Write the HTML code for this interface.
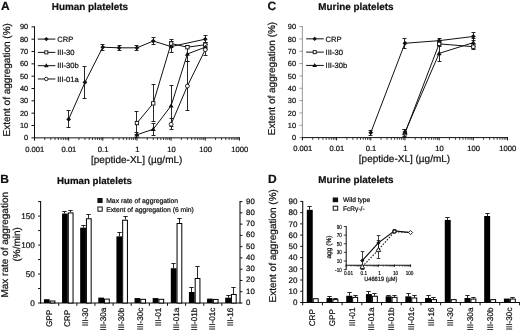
<!DOCTYPE html>
<html lang="en"><head><meta charset="utf-8"><title>Figure</title>
<style>html,body{margin:0;padding:0;background:#fff}body{width:520px;height:330px;overflow:hidden}svg{display:block;will-change:transform;filter:grayscale(1)}text{text-rendering:geometricPrecision;stroke:#111;stroke-width:0.22px}</style>
</head><body>
<svg width="520" height="330" viewBox="0 0 520 330" font-family='"Liberation Sans", Arial, sans-serif'>
<rect width="520" height="330" fill="#fff"/>
<text x="0.90" y="9.90" font-size="12" text-anchor="start" font-weight="bold" fill="#111" >A</text>
<text x="51.80" y="9.90" font-size="9.9" text-anchor="start" font-weight="bold" fill="#111" >Human platelets</text>
<text x="10.40" y="136.50" font-size="10" text-anchor="start" transform="rotate(-90 10.40 136.50)" fill="#111" >Extent of aggregation (%)</text>
<text x="136.70" y="162.50" font-size="10" text-anchor="middle" fill="#111" >[peptide-XL] (µg/mL)</text>
<line x1="34.50" y1="26.35" x2="34.50" y2="138.35" stroke="#111" stroke-width="1" />
<line x1="31.50" y1="137.85" x2="34.50" y2="137.85" stroke="#111" stroke-width="1" />
<text x="28.20" y="140.45" font-size="7.4" text-anchor="end" fill="#111" >0</text>
<line x1="31.50" y1="125.52" x2="34.50" y2="125.52" stroke="#111" stroke-width="1" />
<text x="28.20" y="128.12" font-size="7.4" text-anchor="end" fill="#111" >10</text>
<line x1="31.50" y1="113.18" x2="34.50" y2="113.18" stroke="#111" stroke-width="1" />
<text x="28.20" y="115.78" font-size="7.4" text-anchor="end" fill="#111" >20</text>
<line x1="31.50" y1="100.85" x2="34.50" y2="100.85" stroke="#111" stroke-width="1" />
<text x="28.20" y="103.45" font-size="7.4" text-anchor="end" fill="#111" >30</text>
<line x1="31.50" y1="88.52" x2="34.50" y2="88.52" stroke="#111" stroke-width="1" />
<text x="28.20" y="91.12" font-size="7.4" text-anchor="end" fill="#111" >40</text>
<line x1="31.50" y1="76.18" x2="34.50" y2="76.18" stroke="#111" stroke-width="1" />
<text x="28.20" y="78.78" font-size="7.4" text-anchor="end" fill="#111" >50</text>
<line x1="31.50" y1="63.85" x2="34.50" y2="63.85" stroke="#111" stroke-width="1" />
<text x="28.20" y="66.45" font-size="7.4" text-anchor="end" fill="#111" >60</text>
<line x1="31.50" y1="51.52" x2="34.50" y2="51.52" stroke="#111" stroke-width="1" />
<text x="28.20" y="54.12" font-size="7.4" text-anchor="end" fill="#111" >70</text>
<line x1="31.50" y1="39.18" x2="34.50" y2="39.18" stroke="#111" stroke-width="1" />
<text x="28.20" y="41.78" font-size="7.4" text-anchor="end" fill="#111" >80</text>
<line x1="31.50" y1="26.85" x2="34.50" y2="26.85" stroke="#111" stroke-width="1" />
<text x="28.20" y="29.45" font-size="7.4" text-anchor="end" fill="#111" >90</text>
<line x1="34.00" y1="137.85" x2="239.90" y2="137.85" stroke="#111" stroke-width="1.0" />
<line x1="34.50" y1="137.35" x2="34.50" y2="140.65" stroke="#111" stroke-width="1" />
<text x="34.80" y="151.80" font-size="7.6" text-anchor="middle" fill="#111" >0.001</text>
<line x1="44.78" y1="137.85" x2="44.78" y2="140.05" stroke="#111" stroke-width="0.8" />
<line x1="50.79" y1="137.85" x2="50.79" y2="140.05" stroke="#111" stroke-width="0.8" />
<line x1="55.06" y1="137.85" x2="55.06" y2="140.05" stroke="#111" stroke-width="0.8" />
<line x1="58.37" y1="137.85" x2="58.37" y2="140.05" stroke="#111" stroke-width="0.8" />
<line x1="61.07" y1="137.85" x2="61.07" y2="140.05" stroke="#111" stroke-width="0.8" />
<line x1="63.36" y1="137.85" x2="63.36" y2="140.05" stroke="#111" stroke-width="0.8" />
<line x1="65.34" y1="137.85" x2="65.34" y2="140.05" stroke="#111" stroke-width="0.8" />
<line x1="67.09" y1="137.85" x2="67.09" y2="140.05" stroke="#111" stroke-width="0.8" />
<line x1="68.65" y1="137.35" x2="68.65" y2="140.65" stroke="#111" stroke-width="1" />
<text x="68.95" y="151.80" font-size="7.6" text-anchor="middle" fill="#111" >0.01</text>
<line x1="78.93" y1="137.85" x2="78.93" y2="140.05" stroke="#111" stroke-width="0.8" />
<line x1="84.94" y1="137.85" x2="84.94" y2="140.05" stroke="#111" stroke-width="0.8" />
<line x1="89.21" y1="137.85" x2="89.21" y2="140.05" stroke="#111" stroke-width="0.8" />
<line x1="92.52" y1="137.85" x2="92.52" y2="140.05" stroke="#111" stroke-width="0.8" />
<line x1="95.22" y1="137.85" x2="95.22" y2="140.05" stroke="#111" stroke-width="0.8" />
<line x1="97.51" y1="137.85" x2="97.51" y2="140.05" stroke="#111" stroke-width="0.8" />
<line x1="99.49" y1="137.85" x2="99.49" y2="140.05" stroke="#111" stroke-width="0.8" />
<line x1="101.24" y1="137.85" x2="101.24" y2="140.05" stroke="#111" stroke-width="0.8" />
<line x1="102.80" y1="137.35" x2="102.80" y2="140.65" stroke="#111" stroke-width="1" />
<text x="103.10" y="151.80" font-size="7.6" text-anchor="middle" fill="#111" >0.1</text>
<line x1="113.08" y1="137.85" x2="113.08" y2="140.05" stroke="#111" stroke-width="0.8" />
<line x1="119.09" y1="137.85" x2="119.09" y2="140.05" stroke="#111" stroke-width="0.8" />
<line x1="123.36" y1="137.85" x2="123.36" y2="140.05" stroke="#111" stroke-width="0.8" />
<line x1="126.67" y1="137.85" x2="126.67" y2="140.05" stroke="#111" stroke-width="0.8" />
<line x1="129.37" y1="137.85" x2="129.37" y2="140.05" stroke="#111" stroke-width="0.8" />
<line x1="131.66" y1="137.85" x2="131.66" y2="140.05" stroke="#111" stroke-width="0.8" />
<line x1="133.64" y1="137.85" x2="133.64" y2="140.05" stroke="#111" stroke-width="0.8" />
<line x1="135.39" y1="137.85" x2="135.39" y2="140.05" stroke="#111" stroke-width="0.8" />
<line x1="136.95" y1="137.35" x2="136.95" y2="140.65" stroke="#111" stroke-width="1" />
<text x="137.25" y="151.80" font-size="7.6" text-anchor="middle" fill="#111" >1</text>
<line x1="147.23" y1="137.85" x2="147.23" y2="140.05" stroke="#111" stroke-width="0.8" />
<line x1="153.24" y1="137.85" x2="153.24" y2="140.05" stroke="#111" stroke-width="0.8" />
<line x1="157.51" y1="137.85" x2="157.51" y2="140.05" stroke="#111" stroke-width="0.8" />
<line x1="160.82" y1="137.85" x2="160.82" y2="140.05" stroke="#111" stroke-width="0.8" />
<line x1="163.52" y1="137.85" x2="163.52" y2="140.05" stroke="#111" stroke-width="0.8" />
<line x1="165.81" y1="137.85" x2="165.81" y2="140.05" stroke="#111" stroke-width="0.8" />
<line x1="167.79" y1="137.85" x2="167.79" y2="140.05" stroke="#111" stroke-width="0.8" />
<line x1="169.54" y1="137.85" x2="169.54" y2="140.05" stroke="#111" stroke-width="0.8" />
<line x1="171.10" y1="137.35" x2="171.10" y2="140.65" stroke="#111" stroke-width="1" />
<text x="171.40" y="151.80" font-size="7.6" text-anchor="middle" fill="#111" >10</text>
<line x1="181.38" y1="137.85" x2="181.38" y2="140.05" stroke="#111" stroke-width="0.8" />
<line x1="187.39" y1="137.85" x2="187.39" y2="140.05" stroke="#111" stroke-width="0.8" />
<line x1="191.66" y1="137.85" x2="191.66" y2="140.05" stroke="#111" stroke-width="0.8" />
<line x1="194.97" y1="137.85" x2="194.97" y2="140.05" stroke="#111" stroke-width="0.8" />
<line x1="197.67" y1="137.85" x2="197.67" y2="140.05" stroke="#111" stroke-width="0.8" />
<line x1="199.96" y1="137.85" x2="199.96" y2="140.05" stroke="#111" stroke-width="0.8" />
<line x1="201.94" y1="137.85" x2="201.94" y2="140.05" stroke="#111" stroke-width="0.8" />
<line x1="203.69" y1="137.85" x2="203.69" y2="140.05" stroke="#111" stroke-width="0.8" />
<line x1="205.25" y1="137.35" x2="205.25" y2="140.65" stroke="#111" stroke-width="1" />
<text x="205.55" y="151.80" font-size="7.6" text-anchor="middle" fill="#111" >100</text>
<line x1="215.53" y1="137.85" x2="215.53" y2="140.05" stroke="#111" stroke-width="0.8" />
<line x1="221.54" y1="137.85" x2="221.54" y2="140.05" stroke="#111" stroke-width="0.8" />
<line x1="225.81" y1="137.85" x2="225.81" y2="140.05" stroke="#111" stroke-width="0.8" />
<line x1="229.12" y1="137.85" x2="229.12" y2="140.05" stroke="#111" stroke-width="0.8" />
<line x1="231.82" y1="137.85" x2="231.82" y2="140.05" stroke="#111" stroke-width="0.8" />
<line x1="234.11" y1="137.85" x2="234.11" y2="140.05" stroke="#111" stroke-width="0.8" />
<line x1="236.09" y1="137.85" x2="236.09" y2="140.05" stroke="#111" stroke-width="0.8" />
<line x1="237.84" y1="137.85" x2="237.84" y2="140.05" stroke="#111" stroke-width="0.8" />
<line x1="239.40" y1="137.35" x2="239.40" y2="140.65" stroke="#111" stroke-width="1" />
<text x="239.70" y="151.80" font-size="7.6" text-anchor="middle" fill="#111" >1000</text>
<polyline points="68.65,119.35 84.94,82.35 102.80,47.20 119.09,47.82 136.95,47.82 153.24,41.03 171.10,46.58 205.25,39.18" fill="none" stroke="#111" stroke-width="1.0" />
<polyline points="136.95,123.05 153.24,103.32 171.10,43.50 187.39,47.20 205.25,44.73" fill="none" stroke="#111" stroke-width="1.0" />
<polyline points="136.95,134.77 153.24,129.22 171.10,105.78 187.39,53.98 205.25,47.20" fill="none" stroke="#111" stroke-width="1.0" />
<polyline points="171.10,124.28 187.39,86.05 205.25,49.67" fill="none" stroke="#111" stroke-width="1.0" />
<line x1="68.50" y1="110.50" x2="68.50" y2="127.50" stroke="#111" stroke-width="0.9" />
<line x1="66.50" y1="110.50" x2="70.50" y2="110.50" stroke="#111" stroke-width="0.9" />
<line x1="66.50" y1="127.50" x2="70.50" y2="127.50" stroke="#111" stroke-width="0.9" />
<line x1="84.50" y1="66.50" x2="84.50" y2="98.50" stroke="#111" stroke-width="0.9" />
<line x1="82.50" y1="66.50" x2="86.50" y2="66.50" stroke="#111" stroke-width="0.9" />
<line x1="82.50" y1="98.50" x2="86.50" y2="98.50" stroke="#111" stroke-width="0.9" />
<line x1="102.50" y1="44.50" x2="102.50" y2="50.50" stroke="#111" stroke-width="0.9" />
<line x1="100.50" y1="44.50" x2="104.50" y2="44.50" stroke="#111" stroke-width="0.9" />
<line x1="100.50" y1="50.50" x2="104.50" y2="50.50" stroke="#111" stroke-width="0.9" />
<line x1="119.50" y1="45.50" x2="119.50" y2="50.50" stroke="#111" stroke-width="0.9" />
<line x1="117.50" y1="45.50" x2="121.50" y2="45.50" stroke="#111" stroke-width="0.9" />
<line x1="117.50" y1="50.50" x2="121.50" y2="50.50" stroke="#111" stroke-width="0.9" />
<line x1="136.50" y1="45.50" x2="136.50" y2="50.50" stroke="#111" stroke-width="0.9" />
<line x1="134.50" y1="45.50" x2="138.50" y2="45.50" stroke="#111" stroke-width="0.9" />
<line x1="134.50" y1="50.50" x2="138.50" y2="50.50" stroke="#111" stroke-width="0.9" />
<line x1="153.50" y1="37.50" x2="153.50" y2="44.50" stroke="#111" stroke-width="0.9" />
<line x1="151.50" y1="37.50" x2="155.50" y2="37.50" stroke="#111" stroke-width="0.9" />
<line x1="151.50" y1="44.50" x2="155.50" y2="44.50" stroke="#111" stroke-width="0.9" />
<line x1="171.50" y1="41.50" x2="171.50" y2="52.50" stroke="#111" stroke-width="0.9" />
<line x1="169.50" y1="41.50" x2="173.50" y2="41.50" stroke="#111" stroke-width="0.9" />
<line x1="169.50" y1="52.50" x2="173.50" y2="52.50" stroke="#111" stroke-width="0.9" />
<line x1="205.50" y1="35.50" x2="205.50" y2="42.50" stroke="#111" stroke-width="0.9" />
<line x1="203.50" y1="35.50" x2="207.50" y2="35.50" stroke="#111" stroke-width="0.9" />
<line x1="203.50" y1="42.50" x2="207.50" y2="42.50" stroke="#111" stroke-width="0.9" />
<line x1="136.50" y1="111.50" x2="136.50" y2="134.50" stroke="#111" stroke-width="0.9" />
<line x1="134.50" y1="111.50" x2="138.50" y2="111.50" stroke="#111" stroke-width="0.9" />
<line x1="134.50" y1="134.50" x2="138.50" y2="134.50" stroke="#111" stroke-width="0.9" />
<line x1="153.50" y1="84.50" x2="153.50" y2="121.50" stroke="#111" stroke-width="0.9" />
<line x1="151.50" y1="84.50" x2="155.50" y2="84.50" stroke="#111" stroke-width="0.9" />
<line x1="151.50" y1="121.50" x2="155.50" y2="121.50" stroke="#111" stroke-width="0.9" />
<line x1="171.50" y1="39.50" x2="171.50" y2="47.50" stroke="#111" stroke-width="0.9" />
<line x1="169.50" y1="39.50" x2="173.50" y2="39.50" stroke="#111" stroke-width="0.9" />
<line x1="169.50" y1="47.50" x2="173.50" y2="47.50" stroke="#111" stroke-width="0.9" />
<line x1="205.50" y1="42.50" x2="205.50" y2="47.50" stroke="#111" stroke-width="0.9" />
<line x1="203.50" y1="42.50" x2="207.50" y2="42.50" stroke="#111" stroke-width="0.9" />
<line x1="203.50" y1="47.50" x2="207.50" y2="47.50" stroke="#111" stroke-width="0.9" />
<line x1="136.50" y1="132.50" x2="136.50" y2="137.50" stroke="#111" stroke-width="0.9" />
<line x1="134.50" y1="132.50" x2="138.50" y2="132.50" stroke="#111" stroke-width="0.9" />
<line x1="134.50" y1="137.50" x2="138.50" y2="137.50" stroke="#111" stroke-width="0.9" />
<line x1="153.50" y1="123.50" x2="153.50" y2="135.50" stroke="#111" stroke-width="0.9" />
<line x1="151.50" y1="123.50" x2="155.50" y2="123.50" stroke="#111" stroke-width="0.9" />
<line x1="151.50" y1="135.50" x2="155.50" y2="135.50" stroke="#111" stroke-width="0.9" />
<line x1="171.50" y1="85.50" x2="171.50" y2="126.50" stroke="#111" stroke-width="0.9" />
<line x1="169.50" y1="85.50" x2="173.50" y2="85.50" stroke="#111" stroke-width="0.9" />
<line x1="169.50" y1="126.50" x2="173.50" y2="126.50" stroke="#111" stroke-width="0.9" />
<line x1="187.50" y1="45.50" x2="187.50" y2="61.50" stroke="#111" stroke-width="0.9" />
<line x1="185.50" y1="45.50" x2="189.50" y2="45.50" stroke="#111" stroke-width="0.9" />
<line x1="185.50" y1="61.50" x2="189.50" y2="61.50" stroke="#111" stroke-width="0.9" />
<line x1="205.50" y1="44.50" x2="205.50" y2="49.50" stroke="#111" stroke-width="0.9" />
<line x1="203.50" y1="44.50" x2="207.50" y2="44.50" stroke="#111" stroke-width="0.9" />
<line x1="203.50" y1="49.50" x2="207.50" y2="49.50" stroke="#111" stroke-width="0.9" />
<line x1="171.50" y1="118.50" x2="171.50" y2="129.50" stroke="#111" stroke-width="0.9" />
<line x1="169.50" y1="118.50" x2="173.50" y2="118.50" stroke="#111" stroke-width="0.9" />
<line x1="169.50" y1="129.50" x2="173.50" y2="129.50" stroke="#111" stroke-width="0.9" />
<line x1="187.50" y1="61.50" x2="187.50" y2="110.50" stroke="#111" stroke-width="0.9" />
<line x1="185.50" y1="61.50" x2="189.50" y2="61.50" stroke="#111" stroke-width="0.9" />
<line x1="185.50" y1="110.50" x2="189.50" y2="110.50" stroke="#111" stroke-width="0.9" />
<line x1="205.50" y1="44.50" x2="205.50" y2="55.50" stroke="#111" stroke-width="0.9" />
<line x1="203.50" y1="44.50" x2="207.50" y2="44.50" stroke="#111" stroke-width="0.9" />
<line x1="203.50" y1="55.50" x2="207.50" y2="55.50" stroke="#111" stroke-width="0.9" />
<polygon points="68.65,116.95 71.05,119.35 68.65,121.75 66.25,119.35" fill="#111"/>
<polygon points="84.94,79.95 87.34,82.35 84.94,84.75 82.54,82.35" fill="#111"/>
<polygon points="102.80,44.80 105.20,47.20 102.80,49.60 100.40,47.20" fill="#111"/>
<polygon points="119.09,45.42 121.49,47.82 119.09,50.22 116.69,47.82" fill="#111"/>
<polygon points="136.95,45.42 139.35,47.82 136.95,50.22 134.55,47.82" fill="#111"/>
<polygon points="153.24,38.63 155.64,41.03 153.24,43.43 150.84,41.03" fill="#111"/>
<polygon points="171.10,44.18 173.50,46.58 171.10,48.98 168.70,46.58" fill="#111"/>
<polygon points="205.25,36.78 207.65,39.18 205.25,41.58 202.85,39.18" fill="#111"/>
<rect x="135.27" y="121.37" width="3.36" height="3.36" fill="#fff" stroke="#111" stroke-width="0.9"/>
<rect x="151.56" y="101.64" width="3.36" height="3.36" fill="#fff" stroke="#111" stroke-width="0.9"/>
<rect x="169.42" y="41.82" width="3.36" height="3.36" fill="#fff" stroke="#111" stroke-width="0.9"/>
<rect x="185.71" y="45.52" width="3.36" height="3.36" fill="#fff" stroke="#111" stroke-width="0.9"/>
<rect x="203.57" y="43.05" width="3.36" height="3.36" fill="#fff" stroke="#111" stroke-width="0.9"/>
<polygon points="136.95,132.25 139.47,136.57 134.43,136.57" fill="#111"/>
<polygon points="153.24,126.70 155.76,131.02 150.72,131.02" fill="#111"/>
<polygon points="171.10,103.26 173.62,107.58 168.58,107.58" fill="#111"/>
<polygon points="187.39,51.46 189.91,55.78 184.87,55.78" fill="#111"/>
<polygon points="205.25,44.68 207.77,49.00 202.73,49.00" fill="#111"/>
<circle cx="171.10" cy="124.28" r="1.92" fill="#fff" stroke="#111" stroke-width="0.9"/>
<circle cx="187.39" cy="86.05" r="1.92" fill="#fff" stroke="#111" stroke-width="0.9"/>
<circle cx="205.25" cy="49.67" r="1.92" fill="#fff" stroke="#111" stroke-width="0.9"/>
<line x1="37.80" y1="39.08" x2="55.40" y2="39.08" stroke="#111" stroke-width="1.0" />
<polygon points="46.30,36.88 48.50,39.08 46.30,41.28 44.10,39.08" fill="#111"/>
<text x="57.20" y="41.78" font-size="7.6" text-anchor="start" fill="#111" >CRP</text>
<line x1="37.80" y1="52.38" x2="55.40" y2="52.38" stroke="#111" stroke-width="1.0" />
<rect x="44.76" y="50.84" width="3.08" height="3.08" fill="#fff" stroke="#111" stroke-width="0.9"/>
<text x="57.20" y="55.08" font-size="7.6" text-anchor="start" fill="#111" >III-30</text>
<line x1="37.80" y1="65.68" x2="55.40" y2="65.68" stroke="#111" stroke-width="1.0" />
<polygon points="46.30,63.37 48.61,67.33 43.99,67.33" fill="#111"/>
<text x="57.20" y="68.38" font-size="7.6" text-anchor="start" fill="#111" >III-30b</text>
<line x1="37.80" y1="78.98" x2="55.40" y2="78.98" stroke="#111" stroke-width="1.0" />
<circle cx="46.30" cy="78.98" r="1.76" fill="#fff" stroke="#111" stroke-width="0.9"/>
<text x="57.20" y="81.68" font-size="7.6" text-anchor="start" fill="#111" >III-01a</text>
<text x="267.50" y="9.90" font-size="12" text-anchor="start" font-weight="bold" fill="#111" >C</text>
<text x="318.30" y="9.60" font-size="9.9" text-anchor="start" font-weight="bold" fill="#111" >Murine platelets</text>
<text x="275.20" y="135.20" font-size="10" text-anchor="start" transform="rotate(-90 275.20 135.20)" fill="#111" >Extent of aggregation (%)</text>
<text x="404.50" y="161.70" font-size="10" text-anchor="middle" fill="#111" >[peptide-XL] (µg/mL)</text>
<line x1="302.40" y1="26.10" x2="302.40" y2="138.10" stroke="#999" stroke-width="1" />
<line x1="299.40" y1="137.60" x2="302.40" y2="137.60" stroke="#999" stroke-width="1" />
<text x="296.10" y="140.20" font-size="7.4" text-anchor="end" fill="#111" >0</text>
<line x1="299.40" y1="125.27" x2="302.40" y2="125.27" stroke="#999" stroke-width="1" />
<text x="296.10" y="127.87" font-size="7.4" text-anchor="end" fill="#111" >10</text>
<line x1="299.40" y1="112.93" x2="302.40" y2="112.93" stroke="#999" stroke-width="1" />
<text x="296.10" y="115.53" font-size="7.4" text-anchor="end" fill="#111" >20</text>
<line x1="299.40" y1="100.60" x2="302.40" y2="100.60" stroke="#999" stroke-width="1" />
<text x="296.10" y="103.20" font-size="7.4" text-anchor="end" fill="#111" >30</text>
<line x1="299.40" y1="88.27" x2="302.40" y2="88.27" stroke="#999" stroke-width="1" />
<text x="296.10" y="90.87" font-size="7.4" text-anchor="end" fill="#111" >40</text>
<line x1="299.40" y1="75.93" x2="302.40" y2="75.93" stroke="#999" stroke-width="1" />
<text x="296.10" y="78.53" font-size="7.4" text-anchor="end" fill="#111" >50</text>
<line x1="299.40" y1="63.60" x2="302.40" y2="63.60" stroke="#999" stroke-width="1" />
<text x="296.10" y="66.20" font-size="7.4" text-anchor="end" fill="#111" >60</text>
<line x1="299.40" y1="51.27" x2="302.40" y2="51.27" stroke="#999" stroke-width="1" />
<text x="296.10" y="53.87" font-size="7.4" text-anchor="end" fill="#111" >70</text>
<line x1="299.40" y1="38.93" x2="302.40" y2="38.93" stroke="#999" stroke-width="1" />
<text x="296.10" y="41.53" font-size="7.4" text-anchor="end" fill="#111" >80</text>
<line x1="299.40" y1="26.60" x2="302.40" y2="26.60" stroke="#999" stroke-width="1" />
<text x="296.10" y="29.20" font-size="7.4" text-anchor="end" fill="#111" >90</text>
<line x1="301.90" y1="137.60" x2="508.00" y2="137.60" stroke="#111" stroke-width="1.0" />
<line x1="302.40" y1="137.10" x2="302.40" y2="140.40" stroke="#111" stroke-width="1" />
<text x="302.70" y="151.30" font-size="7.6" text-anchor="middle" fill="#111" >0.001</text>
<line x1="312.69" y1="137.60" x2="312.69" y2="139.80" stroke="#111" stroke-width="0.8" />
<line x1="318.71" y1="137.60" x2="318.71" y2="139.80" stroke="#111" stroke-width="0.8" />
<line x1="322.98" y1="137.60" x2="322.98" y2="139.80" stroke="#111" stroke-width="0.8" />
<line x1="326.29" y1="137.60" x2="326.29" y2="139.80" stroke="#111" stroke-width="0.8" />
<line x1="329.00" y1="137.60" x2="329.00" y2="139.80" stroke="#111" stroke-width="0.8" />
<line x1="331.29" y1="137.60" x2="331.29" y2="139.80" stroke="#111" stroke-width="0.8" />
<line x1="333.27" y1="137.60" x2="333.27" y2="139.80" stroke="#111" stroke-width="0.8" />
<line x1="335.02" y1="137.60" x2="335.02" y2="139.80" stroke="#111" stroke-width="0.8" />
<line x1="336.58" y1="137.10" x2="336.58" y2="140.40" stroke="#111" stroke-width="1" />
<text x="336.88" y="151.30" font-size="7.6" text-anchor="middle" fill="#111" >0.01</text>
<line x1="346.87" y1="137.60" x2="346.87" y2="139.80" stroke="#111" stroke-width="0.8" />
<line x1="352.89" y1="137.60" x2="352.89" y2="139.80" stroke="#111" stroke-width="0.8" />
<line x1="357.16" y1="137.60" x2="357.16" y2="139.80" stroke="#111" stroke-width="0.8" />
<line x1="360.48" y1="137.60" x2="360.48" y2="139.80" stroke="#111" stroke-width="0.8" />
<line x1="363.18" y1="137.60" x2="363.18" y2="139.80" stroke="#111" stroke-width="0.8" />
<line x1="365.47" y1="137.60" x2="365.47" y2="139.80" stroke="#111" stroke-width="0.8" />
<line x1="367.45" y1="137.60" x2="367.45" y2="139.80" stroke="#111" stroke-width="0.8" />
<line x1="369.20" y1="137.60" x2="369.20" y2="139.80" stroke="#111" stroke-width="0.8" />
<line x1="370.77" y1="137.10" x2="370.77" y2="140.40" stroke="#111" stroke-width="1" />
<text x="371.07" y="151.30" font-size="7.6" text-anchor="middle" fill="#111" >0.1</text>
<line x1="381.06" y1="137.60" x2="381.06" y2="139.80" stroke="#111" stroke-width="0.8" />
<line x1="387.08" y1="137.60" x2="387.08" y2="139.80" stroke="#111" stroke-width="0.8" />
<line x1="391.35" y1="137.60" x2="391.35" y2="139.80" stroke="#111" stroke-width="0.8" />
<line x1="394.66" y1="137.60" x2="394.66" y2="139.80" stroke="#111" stroke-width="0.8" />
<line x1="397.37" y1="137.60" x2="397.37" y2="139.80" stroke="#111" stroke-width="0.8" />
<line x1="399.65" y1="137.60" x2="399.65" y2="139.80" stroke="#111" stroke-width="0.8" />
<line x1="401.64" y1="137.60" x2="401.64" y2="139.80" stroke="#111" stroke-width="0.8" />
<line x1="403.39" y1="137.60" x2="403.39" y2="139.80" stroke="#111" stroke-width="0.8" />
<line x1="404.95" y1="137.10" x2="404.95" y2="140.40" stroke="#111" stroke-width="1" />
<text x="405.25" y="151.30" font-size="7.6" text-anchor="middle" fill="#111" >1</text>
<line x1="415.24" y1="137.60" x2="415.24" y2="139.80" stroke="#111" stroke-width="0.8" />
<line x1="421.26" y1="137.60" x2="421.26" y2="139.80" stroke="#111" stroke-width="0.8" />
<line x1="425.53" y1="137.60" x2="425.53" y2="139.80" stroke="#111" stroke-width="0.8" />
<line x1="428.84" y1="137.60" x2="428.84" y2="139.80" stroke="#111" stroke-width="0.8" />
<line x1="431.55" y1="137.60" x2="431.55" y2="139.80" stroke="#111" stroke-width="0.8" />
<line x1="433.84" y1="137.60" x2="433.84" y2="139.80" stroke="#111" stroke-width="0.8" />
<line x1="435.82" y1="137.60" x2="435.82" y2="139.80" stroke="#111" stroke-width="0.8" />
<line x1="437.57" y1="137.60" x2="437.57" y2="139.80" stroke="#111" stroke-width="0.8" />
<line x1="439.13" y1="137.10" x2="439.13" y2="140.40" stroke="#111" stroke-width="1" />
<text x="439.43" y="151.30" font-size="7.6" text-anchor="middle" fill="#111" >10</text>
<line x1="449.42" y1="137.60" x2="449.42" y2="139.80" stroke="#111" stroke-width="0.8" />
<line x1="455.44" y1="137.60" x2="455.44" y2="139.80" stroke="#111" stroke-width="0.8" />
<line x1="459.71" y1="137.60" x2="459.71" y2="139.80" stroke="#111" stroke-width="0.8" />
<line x1="463.03" y1="137.60" x2="463.03" y2="139.80" stroke="#111" stroke-width="0.8" />
<line x1="465.73" y1="137.60" x2="465.73" y2="139.80" stroke="#111" stroke-width="0.8" />
<line x1="468.02" y1="137.60" x2="468.02" y2="139.80" stroke="#111" stroke-width="0.8" />
<line x1="470.00" y1="137.60" x2="470.00" y2="139.80" stroke="#111" stroke-width="0.8" />
<line x1="471.75" y1="137.60" x2="471.75" y2="139.80" stroke="#111" stroke-width="0.8" />
<line x1="473.32" y1="137.10" x2="473.32" y2="140.40" stroke="#111" stroke-width="1" />
<text x="473.62" y="151.30" font-size="7.6" text-anchor="middle" fill="#111" >100</text>
<line x1="483.61" y1="137.60" x2="483.61" y2="139.80" stroke="#111" stroke-width="0.8" />
<line x1="489.63" y1="137.60" x2="489.63" y2="139.80" stroke="#111" stroke-width="0.8" />
<line x1="493.90" y1="137.60" x2="493.90" y2="139.80" stroke="#111" stroke-width="0.8" />
<line x1="497.21" y1="137.60" x2="497.21" y2="139.80" stroke="#111" stroke-width="0.8" />
<line x1="499.92" y1="137.60" x2="499.92" y2="139.80" stroke="#111" stroke-width="0.8" />
<line x1="502.20" y1="137.60" x2="502.20" y2="139.80" stroke="#111" stroke-width="0.8" />
<line x1="504.19" y1="137.60" x2="504.19" y2="139.80" stroke="#111" stroke-width="0.8" />
<line x1="505.94" y1="137.60" x2="505.94" y2="139.80" stroke="#111" stroke-width="0.8" />
<line x1="507.50" y1="137.10" x2="507.50" y2="140.40" stroke="#111" stroke-width="1" />
<text x="507.80" y="151.30" font-size="7.6" text-anchor="middle" fill="#111" >1000</text>
<polyline points="370.77,132.67 404.95,43.25 439.13,40.66 473.32,36.47" fill="none" stroke="#111" stroke-width="1.0" />
<polyline points="404.95,133.28 439.13,43.87 473.32,46.70" fill="none" stroke="#111" stroke-width="1.0" />
<polyline points="404.95,132.42 439.13,53.36 473.32,42.63" fill="none" stroke="#111" stroke-width="1.0" />
<line x1="370.50" y1="130.50" x2="370.50" y2="135.50" stroke="#111" stroke-width="0.9" />
<line x1="368.50" y1="130.50" x2="372.50" y2="130.50" stroke="#111" stroke-width="0.9" />
<line x1="368.50" y1="135.50" x2="372.50" y2="135.50" stroke="#111" stroke-width="0.9" />
<line x1="404.50" y1="38.50" x2="404.50" y2="48.50" stroke="#111" stroke-width="0.9" />
<line x1="402.50" y1="38.50" x2="406.50" y2="38.50" stroke="#111" stroke-width="0.9" />
<line x1="402.50" y1="48.50" x2="406.50" y2="48.50" stroke="#111" stroke-width="0.9" />
<line x1="439.50" y1="38.50" x2="439.50" y2="42.50" stroke="#111" stroke-width="0.9" />
<line x1="437.50" y1="38.50" x2="441.50" y2="38.50" stroke="#111" stroke-width="0.9" />
<line x1="437.50" y1="42.50" x2="441.50" y2="42.50" stroke="#111" stroke-width="0.9" />
<line x1="473.50" y1="32.50" x2="473.50" y2="40.50" stroke="#111" stroke-width="0.9" />
<line x1="471.50" y1="32.50" x2="475.50" y2="32.50" stroke="#111" stroke-width="0.9" />
<line x1="471.50" y1="40.50" x2="475.50" y2="40.50" stroke="#111" stroke-width="0.9" />
<line x1="404.50" y1="129.50" x2="404.50" y2="136.50" stroke="#111" stroke-width="0.9" />
<line x1="402.50" y1="129.50" x2="406.50" y2="129.50" stroke="#111" stroke-width="0.9" />
<line x1="402.50" y1="136.50" x2="406.50" y2="136.50" stroke="#111" stroke-width="0.9" />
<line x1="439.50" y1="41.50" x2="439.50" y2="46.50" stroke="#111" stroke-width="0.9" />
<line x1="437.50" y1="41.50" x2="441.50" y2="41.50" stroke="#111" stroke-width="0.9" />
<line x1="437.50" y1="46.50" x2="441.50" y2="46.50" stroke="#111" stroke-width="0.9" />
<line x1="473.50" y1="43.50" x2="473.50" y2="49.50" stroke="#111" stroke-width="0.9" />
<line x1="471.50" y1="43.50" x2="475.50" y2="43.50" stroke="#111" stroke-width="0.9" />
<line x1="471.50" y1="49.50" x2="475.50" y2="49.50" stroke="#111" stroke-width="0.9" />
<line x1="404.50" y1="129.50" x2="404.50" y2="134.50" stroke="#111" stroke-width="0.9" />
<line x1="402.50" y1="129.50" x2="406.50" y2="129.50" stroke="#111" stroke-width="0.9" />
<line x1="402.50" y1="134.50" x2="406.50" y2="134.50" stroke="#111" stroke-width="0.9" />
<line x1="439.50" y1="44.50" x2="439.50" y2="61.50" stroke="#111" stroke-width="0.9" />
<line x1="437.50" y1="44.50" x2="441.50" y2="44.50" stroke="#111" stroke-width="0.9" />
<line x1="437.50" y1="61.50" x2="441.50" y2="61.50" stroke="#111" stroke-width="0.9" />
<line x1="473.50" y1="38.50" x2="473.50" y2="46.50" stroke="#111" stroke-width="0.9" />
<line x1="471.50" y1="38.50" x2="475.50" y2="38.50" stroke="#111" stroke-width="0.9" />
<line x1="471.50" y1="46.50" x2="475.50" y2="46.50" stroke="#111" stroke-width="0.9" />
<polygon points="370.77,130.27 373.17,132.67 370.77,135.07 368.37,132.67" fill="#111"/>
<polygon points="404.95,40.85 407.35,43.25 404.95,45.65 402.55,43.25" fill="#111"/>
<polygon points="439.13,38.26 441.53,40.66 439.13,43.06 436.73,40.66" fill="#111"/>
<polygon points="473.32,34.07 475.72,36.47 473.32,38.87 470.92,36.47" fill="#111"/>
<rect x="403.27" y="131.60" width="3.36" height="3.36" fill="#fff" stroke="#111" stroke-width="0.9"/>
<rect x="437.45" y="42.19" width="3.36" height="3.36" fill="#fff" stroke="#111" stroke-width="0.9"/>
<rect x="471.64" y="45.02" width="3.36" height="3.36" fill="#fff" stroke="#111" stroke-width="0.9"/>
<polygon points="404.95,129.90 407.47,134.22 402.43,134.22" fill="#111"/>
<polygon points="439.13,50.84 441.65,55.16 436.61,55.16" fill="#111"/>
<polygon points="473.32,40.11 475.84,44.43 470.80,44.43" fill="#111"/>
<line x1="306.20" y1="38.83" x2="323.80" y2="38.83" stroke="#111" stroke-width="1.0" />
<polygon points="314.70,36.63 316.90,38.83 314.70,41.03 312.50,38.83" fill="#111"/>
<text x="325.60" y="41.53" font-size="7.6" text-anchor="start" fill="#111" >CRP</text>
<line x1="306.20" y1="52.13" x2="323.80" y2="52.13" stroke="#111" stroke-width="1.0" />
<rect x="313.16" y="50.59" width="3.08" height="3.08" fill="#fff" stroke="#111" stroke-width="0.9"/>
<text x="325.60" y="54.83" font-size="7.6" text-anchor="start" fill="#111" >III-30</text>
<line x1="306.20" y1="65.43" x2="323.80" y2="65.43" stroke="#111" stroke-width="1.0" />
<polygon points="314.70,63.12 317.01,67.08 312.39,67.08" fill="#111"/>
<text x="325.60" y="68.13" font-size="7.6" text-anchor="start" fill="#111" >III-30b</text>
<text x="0.30" y="182.50" font-size="12" text-anchor="start" font-weight="bold" fill="#111" >B</text>
<text x="57.10" y="183.60" font-size="9.7" text-anchor="start" font-weight="bold" fill="#111" >Human platelets</text>
<text x="8.30" y="297.60" font-size="10" text-anchor="start" transform="rotate(-90 8.30 297.60)" fill="#111" >Max rate of aggregation</text>
<text x="20.00" y="244.30" font-size="10" text-anchor="middle" transform="rotate(-90 20.00 244.30)" fill="#111" >(%/min)</text>
<line x1="40.60" y1="201.10" x2="40.60" y2="303.50" stroke="#111" stroke-width="1.1" />
<line x1="240.00" y1="201.10" x2="240.00" y2="303.50" stroke="#111" stroke-width="1.1" />
<line x1="38.10" y1="303.00" x2="40.60" y2="303.00" stroke="#111" stroke-width="1" />
<text x="34.80" y="305.70" font-size="8.2" text-anchor="end" fill="#111" >0</text>
<line x1="38.10" y1="288.51" x2="40.60" y2="288.51" stroke="#111" stroke-width="1" />
<line x1="38.10" y1="274.03" x2="40.60" y2="274.03" stroke="#111" stroke-width="1" />
<text x="34.80" y="276.73" font-size="8.2" text-anchor="end" fill="#111" >50</text>
<line x1="38.10" y1="259.54" x2="40.60" y2="259.54" stroke="#111" stroke-width="1" />
<line x1="38.10" y1="245.06" x2="40.60" y2="245.06" stroke="#111" stroke-width="1" />
<text x="34.80" y="247.76" font-size="8.2" text-anchor="end" fill="#111" >100</text>
<line x1="38.10" y1="230.57" x2="40.60" y2="230.57" stroke="#111" stroke-width="1" />
<line x1="38.10" y1="216.09" x2="40.60" y2="216.09" stroke="#111" stroke-width="1" />
<text x="34.80" y="218.79" font-size="8.2" text-anchor="end" fill="#111" >150</text>
<line x1="38.10" y1="201.60" x2="40.60" y2="201.60" stroke="#111" stroke-width="1" />
<line x1="240.00" y1="303.00" x2="242.50" y2="303.00" stroke="#111" stroke-width="1" />
<text x="246.10" y="305.00" font-size="7.8" text-anchor="start" fill="#111" >0</text>
<line x1="240.00" y1="291.73" x2="242.50" y2="291.73" stroke="#111" stroke-width="1" />
<text x="246.10" y="293.73" font-size="7.8" text-anchor="start" fill="#111" >10</text>
<line x1="240.00" y1="280.47" x2="242.50" y2="280.47" stroke="#111" stroke-width="1" />
<text x="246.10" y="282.47" font-size="7.8" text-anchor="start" fill="#111" >20</text>
<line x1="240.00" y1="269.20" x2="242.50" y2="269.20" stroke="#111" stroke-width="1" />
<text x="246.10" y="271.20" font-size="7.8" text-anchor="start" fill="#111" >30</text>
<line x1="240.00" y1="257.93" x2="242.50" y2="257.93" stroke="#111" stroke-width="1" />
<text x="246.10" y="259.93" font-size="7.8" text-anchor="start" fill="#111" >40</text>
<line x1="240.00" y1="246.67" x2="242.50" y2="246.67" stroke="#111" stroke-width="1" />
<text x="246.10" y="248.67" font-size="7.8" text-anchor="start" fill="#111" >50</text>
<line x1="240.00" y1="235.40" x2="242.50" y2="235.40" stroke="#111" stroke-width="1" />
<text x="246.10" y="237.40" font-size="7.8" text-anchor="start" fill="#111" >60</text>
<line x1="240.00" y1="224.13" x2="242.50" y2="224.13" stroke="#111" stroke-width="1" />
<text x="246.10" y="226.13" font-size="7.8" text-anchor="start" fill="#111" >70</text>
<line x1="240.00" y1="212.87" x2="242.50" y2="212.87" stroke="#111" stroke-width="1" />
<text x="246.10" y="214.87" font-size="7.8" text-anchor="start" fill="#111" >80</text>
<line x1="240.00" y1="201.60" x2="242.50" y2="201.60" stroke="#111" stroke-width="1" />
<text x="246.10" y="203.60" font-size="7.8" text-anchor="start" fill="#111" >90</text>
<line x1="40.10" y1="303.00" x2="240.50" y2="303.00" stroke="#111" stroke-width="1.2" />
<rect x="43.91" y="299.23" width="5.75" height="3.77" fill="#000"/>
<rect x="50.16" y="301.02" width="4.75" height="1.98" fill="#fff" stroke="#000" stroke-width="1"/>
<text x="51.96" y="309.80" font-size="8.2" text-anchor="end" transform="rotate(-90 51.96 309.80)" fill="#111" >GPP</text>
<line x1="58.73" y1="303.00" x2="58.73" y2="305.80" stroke="#111" stroke-width="1" />
<rect x="62.04" y="213.54" width="5.75" height="89.46" fill="#000"/>
<line x1="64.50" y1="213.54" x2="64.50" y2="211.50" stroke="#111" stroke-width="0.9" />
<line x1="62.30" y1="211.50" x2="66.70" y2="211.50" stroke="#111" stroke-width="0.9" />
<rect x="68.29" y="212.92" width="4.75" height="90.08" fill="#fff" stroke="#000" stroke-width="1"/>
<line x1="70.50" y1="212.42" x2="70.50" y2="210.50" stroke="#111" stroke-width="0.9" />
<line x1="68.30" y1="210.50" x2="72.70" y2="210.50" stroke="#111" stroke-width="0.9" />
<text x="70.09" y="309.80" font-size="8.2" text-anchor="end" transform="rotate(-90 70.09 309.80)" fill="#111" >CRP</text>
<line x1="76.85" y1="303.00" x2="76.85" y2="305.80" stroke="#111" stroke-width="1" />
<rect x="80.17" y="227.67" width="5.75" height="75.33" fill="#000"/>
<line x1="83.50" y1="227.67" x2="83.50" y2="225.50" stroke="#111" stroke-width="0.9" />
<line x1="81.30" y1="225.50" x2="85.70" y2="225.50" stroke="#111" stroke-width="0.9" />
<rect x="86.42" y="218.77" width="4.75" height="84.23" fill="#fff" stroke="#000" stroke-width="1"/>
<line x1="88.50" y1="218.27" x2="88.50" y2="214.50" stroke="#111" stroke-width="0.9" />
<line x1="86.30" y1="214.50" x2="90.70" y2="214.50" stroke="#111" stroke-width="0.9" />
<text x="88.22" y="307.60" font-size="8.2" text-anchor="end" transform="rotate(-90 88.22 307.60)" fill="#111" >III-30</text>
<line x1="94.98" y1="303.00" x2="94.98" y2="305.80" stroke="#111" stroke-width="1" />
<rect x="98.30" y="297.61" width="5.75" height="5.39" fill="#000"/>
<rect x="104.55" y="299.11" width="4.75" height="3.89" fill="#fff" stroke="#000" stroke-width="1"/>
<text x="106.35" y="307.60" font-size="8.2" text-anchor="end" transform="rotate(-90 106.35 307.60)" fill="#111" >III-30a</text>
<line x1="113.11" y1="303.00" x2="113.11" y2="305.80" stroke="#111" stroke-width="1" />
<rect x="116.42" y="236.37" width="5.75" height="66.63" fill="#000"/>
<line x1="119.50" y1="236.37" x2="119.50" y2="232.50" stroke="#111" stroke-width="0.9" />
<line x1="117.30" y1="232.50" x2="121.70" y2="232.50" stroke="#111" stroke-width="0.9" />
<rect x="122.67" y="220.24" width="4.75" height="82.76" fill="#fff" stroke="#000" stroke-width="1"/>
<line x1="125.50" y1="219.74" x2="125.50" y2="216.50" stroke="#111" stroke-width="0.9" />
<line x1="123.30" y1="216.50" x2="127.70" y2="216.50" stroke="#111" stroke-width="0.9" />
<text x="124.47" y="307.60" font-size="8.2" text-anchor="end" transform="rotate(-90 124.47 307.60)" fill="#111" >III-30b</text>
<line x1="131.24" y1="303.00" x2="131.24" y2="305.80" stroke="#111" stroke-width="1" />
<rect x="134.55" y="298.07" width="5.75" height="4.93" fill="#000"/>
<rect x="140.80" y="299.33" width="4.75" height="3.67" fill="#fff" stroke="#000" stroke-width="1"/>
<text x="142.60" y="307.60" font-size="8.2" text-anchor="end" transform="rotate(-90 142.60 307.60)" fill="#111" >III-30c</text>
<line x1="149.36" y1="303.00" x2="149.36" y2="305.80" stroke="#111" stroke-width="1" />
<rect x="152.68" y="298.07" width="5.75" height="4.93" fill="#000"/>
<rect x="158.93" y="299.33" width="4.75" height="3.67" fill="#fff" stroke="#000" stroke-width="1"/>
<text x="160.73" y="307.60" font-size="8.2" text-anchor="end" transform="rotate(-90 160.73 307.60)" fill="#111" >III-01</text>
<line x1="167.49" y1="303.00" x2="167.49" y2="305.80" stroke="#111" stroke-width="1" />
<rect x="170.80" y="268.23" width="5.75" height="34.77" fill="#000"/>
<line x1="173.50" y1="268.23" x2="173.50" y2="263.50" stroke="#111" stroke-width="0.9" />
<line x1="171.30" y1="263.50" x2="175.70" y2="263.50" stroke="#111" stroke-width="0.9" />
<rect x="177.05" y="223.51" width="4.75" height="79.49" fill="#fff" stroke="#000" stroke-width="1"/>
<line x1="179.50" y1="223.01" x2="179.50" y2="218.50" stroke="#111" stroke-width="0.9" />
<line x1="177.30" y1="218.50" x2="181.70" y2="218.50" stroke="#111" stroke-width="0.9" />
<text x="178.85" y="307.60" font-size="8.2" text-anchor="end" transform="rotate(-90 178.85 307.60)" fill="#111" >III-01a</text>
<line x1="185.62" y1="303.00" x2="185.62" y2="305.80" stroke="#111" stroke-width="1" />
<rect x="188.93" y="291.99" width="5.75" height="11.01" fill="#000"/>
<line x1="191.50" y1="291.99" x2="191.50" y2="287.50" stroke="#111" stroke-width="0.9" />
<line x1="189.30" y1="287.50" x2="193.70" y2="287.50" stroke="#111" stroke-width="0.9" />
<rect x="195.18" y="278.49" width="4.75" height="24.51" fill="#fff" stroke="#000" stroke-width="1"/>
<line x1="197.50" y1="277.99" x2="197.50" y2="266.50" stroke="#111" stroke-width="0.9" />
<line x1="195.30" y1="266.50" x2="199.70" y2="266.50" stroke="#111" stroke-width="0.9" />
<text x="196.98" y="307.60" font-size="8.2" text-anchor="end" transform="rotate(-90 196.98 307.60)" fill="#111" >III-01b</text>
<line x1="203.75" y1="303.00" x2="203.75" y2="305.80" stroke="#111" stroke-width="1" />
<rect x="207.06" y="298.65" width="5.75" height="4.35" fill="#000"/>
<rect x="213.31" y="299.44" width="4.75" height="3.56" fill="#fff" stroke="#000" stroke-width="1"/>
<text x="215.11" y="307.60" font-size="8.2" text-anchor="end" transform="rotate(-90 215.11 307.60)" fill="#111" >III-01c</text>
<line x1="221.87" y1="303.00" x2="221.87" y2="305.80" stroke="#111" stroke-width="1" />
<rect x="225.19" y="297.67" width="5.75" height="5.33" fill="#000"/>
<line x1="228.50" y1="297.67" x2="228.50" y2="295.50" stroke="#111" stroke-width="0.9" />
<line x1="226.30" y1="295.50" x2="230.70" y2="295.50" stroke="#111" stroke-width="0.9" />
<rect x="231.44" y="294.49" width="4.75" height="8.51" fill="#fff" stroke="#000" stroke-width="1"/>
<line x1="233.50" y1="293.99" x2="233.50" y2="287.50" stroke="#111" stroke-width="0.9" />
<line x1="231.30" y1="287.50" x2="235.70" y2="287.50" stroke="#111" stroke-width="0.9" />
<text x="233.24" y="307.60" font-size="8.2" text-anchor="end" transform="rotate(-90 233.24 307.60)" fill="#111" >III-16</text>
<rect x="97.4" y="198.0" width="5.2" height="5.0" fill="#111"/>
<rect x="97.9" y="207.0" width="4.3" height="4.2" fill="#fff" stroke="#111" stroke-width="1"/>
<text x="106.20" y="203.00" font-size="6.8" text-anchor="start" fill="#111" >Max rate of aggregation</text>
<text x="106.20" y="211.70" font-size="6.8" text-anchor="start" fill="#111" >Extent of aggregation (6 min)</text>
<text x="267.90" y="182.70" font-size="12" text-anchor="start" font-weight="bold" fill="#111" >D</text>
<text x="318.30" y="183.00" font-size="9.9" text-anchor="start" font-weight="bold" fill="#111" >Murine platelets</text>
<text x="275.60" y="302.50" font-size="10" text-anchor="start" transform="rotate(-90 275.60 302.50)" fill="#111" >Extent of aggregation (%)</text>
<line x1="302.70" y1="200.90" x2="302.70" y2="303.00" stroke="#111" stroke-width="1.1" />
<line x1="300.20" y1="302.50" x2="302.70" y2="302.50" stroke="#111" stroke-width="1" />
<text x="297.40" y="305.30" font-size="8.0" text-anchor="end" fill="#111" >0</text>
<line x1="300.20" y1="291.27" x2="302.70" y2="291.27" stroke="#111" stroke-width="1" />
<text x="297.40" y="294.07" font-size="8.0" text-anchor="end" fill="#111" >10</text>
<line x1="300.20" y1="280.03" x2="302.70" y2="280.03" stroke="#111" stroke-width="1" />
<text x="297.40" y="282.83" font-size="8.0" text-anchor="end" fill="#111" >20</text>
<line x1="300.20" y1="268.80" x2="302.70" y2="268.80" stroke="#111" stroke-width="1" />
<text x="297.40" y="271.60" font-size="8.0" text-anchor="end" fill="#111" >30</text>
<line x1="300.20" y1="257.57" x2="302.70" y2="257.57" stroke="#111" stroke-width="1" />
<text x="297.40" y="260.37" font-size="8.0" text-anchor="end" fill="#111" >40</text>
<line x1="300.20" y1="246.33" x2="302.70" y2="246.33" stroke="#111" stroke-width="1" />
<text x="297.40" y="249.13" font-size="8.0" text-anchor="end" fill="#111" >50</text>
<line x1="300.20" y1="235.10" x2="302.70" y2="235.10" stroke="#111" stroke-width="1" />
<text x="297.40" y="237.90" font-size="8.0" text-anchor="end" fill="#111" >60</text>
<line x1="300.20" y1="223.87" x2="302.70" y2="223.87" stroke="#111" stroke-width="1" />
<text x="297.40" y="226.67" font-size="8.0" text-anchor="end" fill="#111" >70</text>
<line x1="300.20" y1="212.63" x2="302.70" y2="212.63" stroke="#111" stroke-width="1" />
<text x="297.40" y="215.43" font-size="8.0" text-anchor="end" fill="#111" >80</text>
<line x1="300.20" y1="201.40" x2="302.70" y2="201.40" stroke="#111" stroke-width="1" />
<text x="297.40" y="204.20" font-size="8.0" text-anchor="end" fill="#111" >90</text>
<line x1="302.20" y1="302.50" x2="520.00" y2="302.50" stroke="#111" stroke-width="1.2" />
<line x1="302.70" y1="302.50" x2="302.70" y2="305.30" stroke="#111" stroke-width="1" />
<rect x="306.80" y="209.82" width="5.95" height="92.68" fill="#000"/>
<line x1="309.50" y1="209.82" x2="309.50" y2="206.50" stroke="#111" stroke-width="0.9" />
<line x1="307.30" y1="206.50" x2="311.70" y2="206.50" stroke="#111" stroke-width="0.9" />
<rect x="313.25" y="298.73" width="4.95" height="3.77" fill="#fff" stroke="#000" stroke-width="1"/>
<text x="315.35" y="309.00" font-size="8.2" text-anchor="end" transform="rotate(-90 315.35 309.00)" fill="#111" >CRP</text>
<line x1="322.41" y1="302.50" x2="322.41" y2="305.30" stroke="#111" stroke-width="1" />
<rect x="326.51" y="298.01" width="5.95" height="4.49" fill="#000"/>
<line x1="329.50" y1="298.01" x2="329.50" y2="296.50" stroke="#111" stroke-width="0.9" />
<line x1="327.30" y1="296.50" x2="331.70" y2="296.50" stroke="#111" stroke-width="0.9" />
<rect x="332.96" y="299.63" width="4.95" height="2.87" fill="#fff" stroke="#000" stroke-width="1"/>
<line x1="335.50" y1="299.13" x2="335.50" y2="298.50" stroke="#111" stroke-width="0.9" />
<line x1="333.30" y1="298.50" x2="337.70" y2="298.50" stroke="#111" stroke-width="0.9" />
<text x="335.06" y="309.00" font-size="8.2" text-anchor="end" transform="rotate(-90 335.06 309.00)" fill="#111" >GPP</text>
<line x1="342.12" y1="302.50" x2="342.12" y2="305.30" stroke="#111" stroke-width="1" />
<rect x="346.22" y="295.76" width="5.95" height="6.74" fill="#000"/>
<line x1="349.50" y1="295.76" x2="349.50" y2="292.50" stroke="#111" stroke-width="0.9" />
<line x1="347.30" y1="292.50" x2="351.70" y2="292.50" stroke="#111" stroke-width="0.9" />
<rect x="352.67" y="297.38" width="4.95" height="5.12" fill="#fff" stroke="#000" stroke-width="1"/>
<line x1="355.50" y1="296.88" x2="355.50" y2="295.50" stroke="#111" stroke-width="0.9" />
<line x1="353.30" y1="295.50" x2="357.70" y2="295.50" stroke="#111" stroke-width="0.9" />
<text x="354.77" y="307.50" font-size="8.2" text-anchor="end" transform="rotate(-90 354.77 307.50)" fill="#111" >III-01</text>
<line x1="361.83" y1="302.50" x2="361.83" y2="305.30" stroke="#111" stroke-width="1" />
<rect x="365.93" y="294.07" width="5.95" height="8.43" fill="#000"/>
<line x1="368.50" y1="294.07" x2="368.50" y2="291.50" stroke="#111" stroke-width="0.9" />
<line x1="366.30" y1="291.50" x2="370.70" y2="291.50" stroke="#111" stroke-width="0.9" />
<rect x="372.38" y="296.26" width="4.95" height="6.24" fill="#fff" stroke="#000" stroke-width="1"/>
<line x1="374.50" y1="295.76" x2="374.50" y2="293.50" stroke="#111" stroke-width="0.9" />
<line x1="372.30" y1="293.50" x2="376.70" y2="293.50" stroke="#111" stroke-width="0.9" />
<text x="374.48" y="307.50" font-size="8.2" text-anchor="end" transform="rotate(-90 374.48 307.50)" fill="#111" >III-01a</text>
<line x1="381.54" y1="302.50" x2="381.54" y2="305.30" stroke="#111" stroke-width="1" />
<rect x="385.64" y="296.32" width="5.95" height="6.18" fill="#000"/>
<line x1="388.50" y1="296.32" x2="388.50" y2="295.50" stroke="#111" stroke-width="0.9" />
<line x1="386.30" y1="295.50" x2="390.70" y2="295.50" stroke="#111" stroke-width="0.9" />
<rect x="392.09" y="297.38" width="4.95" height="5.12" fill="#fff" stroke="#000" stroke-width="1"/>
<line x1="394.50" y1="296.88" x2="394.50" y2="295.50" stroke="#111" stroke-width="0.9" />
<line x1="392.30" y1="295.50" x2="396.70" y2="295.50" stroke="#111" stroke-width="0.9" />
<text x="394.19" y="307.50" font-size="8.2" text-anchor="end" transform="rotate(-90 394.19 307.50)" fill="#111" >III-01b</text>
<line x1="401.25" y1="302.50" x2="401.25" y2="305.30" stroke="#111" stroke-width="1" />
<rect x="405.35" y="296.32" width="5.95" height="6.18" fill="#000"/>
<line x1="408.50" y1="296.32" x2="408.50" y2="293.50" stroke="#111" stroke-width="0.9" />
<line x1="406.30" y1="293.50" x2="410.70" y2="293.50" stroke="#111" stroke-width="0.9" />
<rect x="411.80" y="297.94" width="4.95" height="4.56" fill="#fff" stroke="#000" stroke-width="1"/>
<line x1="414.50" y1="297.44" x2="414.50" y2="295.50" stroke="#111" stroke-width="0.9" />
<line x1="412.30" y1="295.50" x2="416.70" y2="295.50" stroke="#111" stroke-width="0.9" />
<text x="413.90" y="307.50" font-size="8.2" text-anchor="end" transform="rotate(-90 413.90 307.50)" fill="#111" >III-01c</text>
<line x1="420.95" y1="302.50" x2="420.95" y2="305.30" stroke="#111" stroke-width="1" />
<rect x="425.06" y="298.01" width="5.95" height="4.49" fill="#000"/>
<line x1="428.50" y1="298.01" x2="428.50" y2="295.50" stroke="#111" stroke-width="0.9" />
<line x1="426.30" y1="295.50" x2="430.70" y2="295.50" stroke="#111" stroke-width="0.9" />
<rect x="431.51" y="299.63" width="4.95" height="2.87" fill="#fff" stroke="#000" stroke-width="1"/>
<line x1="433.50" y1="299.13" x2="433.50" y2="297.50" stroke="#111" stroke-width="0.9" />
<line x1="431.30" y1="297.50" x2="435.70" y2="297.50" stroke="#111" stroke-width="0.9" />
<text x="433.61" y="307.50" font-size="8.2" text-anchor="end" transform="rotate(-90 433.61 307.50)" fill="#111" >III-16</text>
<line x1="440.66" y1="302.50" x2="440.66" y2="305.30" stroke="#111" stroke-width="1" />
<rect x="444.77" y="219.94" width="5.95" height="82.56" fill="#000"/>
<line x1="447.50" y1="219.94" x2="447.50" y2="217.50" stroke="#111" stroke-width="0.9" />
<line x1="445.30" y1="217.50" x2="449.70" y2="217.50" stroke="#111" stroke-width="0.9" />
<rect x="451.22" y="299.63" width="4.95" height="2.87" fill="#fff" stroke="#000" stroke-width="1"/>
<text x="453.32" y="307.50" font-size="8.2" text-anchor="end" transform="rotate(-90 453.32 307.50)" fill="#111" >III-30</text>
<line x1="460.37" y1="302.50" x2="460.37" y2="305.30" stroke="#111" stroke-width="1" />
<rect x="464.48" y="298.01" width="5.95" height="4.49" fill="#000"/>
<line x1="467.50" y1="298.01" x2="467.50" y2="295.50" stroke="#111" stroke-width="0.9" />
<line x1="465.30" y1="295.50" x2="469.70" y2="295.50" stroke="#111" stroke-width="0.9" />
<rect x="470.93" y="299.07" width="4.95" height="3.43" fill="#fff" stroke="#000" stroke-width="1"/>
<line x1="473.50" y1="298.57" x2="473.50" y2="297.50" stroke="#111" stroke-width="0.9" />
<line x1="471.30" y1="297.50" x2="475.70" y2="297.50" stroke="#111" stroke-width="0.9" />
<text x="473.03" y="307.50" font-size="8.2" text-anchor="end" transform="rotate(-90 473.03 307.50)" fill="#111" >III-30a</text>
<line x1="480.08" y1="302.50" x2="480.08" y2="305.30" stroke="#111" stroke-width="1" />
<rect x="484.19" y="216.00" width="5.95" height="86.50" fill="#000"/>
<line x1="487.50" y1="216.00" x2="487.50" y2="213.50" stroke="#111" stroke-width="0.9" />
<line x1="485.30" y1="213.50" x2="489.70" y2="213.50" stroke="#111" stroke-width="0.9" />
<rect x="490.64" y="299.63" width="4.95" height="2.87" fill="#fff" stroke="#000" stroke-width="1"/>
<text x="492.74" y="307.50" font-size="8.2" text-anchor="end" transform="rotate(-90 492.74 307.50)" fill="#111" >III-30b</text>
<line x1="499.79" y1="302.50" x2="499.79" y2="305.30" stroke="#111" stroke-width="1" />
<rect x="503.90" y="298.57" width="5.95" height="3.93" fill="#000"/>
<rect x="510.35" y="299.07" width="4.95" height="3.43" fill="#fff" stroke="#000" stroke-width="1"/>
<line x1="512.50" y1="298.57" x2="512.50" y2="297.50" stroke="#111" stroke-width="0.9" />
<line x1="510.30" y1="297.50" x2="514.70" y2="297.50" stroke="#111" stroke-width="0.9" />
<text x="512.45" y="307.50" font-size="8.2" text-anchor="end" transform="rotate(-90 512.45 307.50)" fill="#111" >III-30c</text>
<line x1="519.60" y1="302.50" x2="519.60" y2="305.30" stroke="#111" stroke-width="1" />
<rect x="332.7" y="197.5" width="5.4" height="4.7" fill="#111"/>
<rect x="333.2" y="206.2" width="4.5" height="4.0" fill="#fff" stroke="#111" stroke-width="1"/>
<text x="343.00" y="202.40" font-size="6.6" text-anchor="start" fill="#111" >Wild type</text>
<text x="343.00" y="210.80" font-size="6.6" text-anchor="start" fill="#111" >FcRγ-/-</text>
<line x1="346.20" y1="226.11" x2="346.20" y2="270.01" stroke="#111" stroke-width="1" />
<line x1="343.80" y1="269.61" x2="346.20" y2="269.61" stroke="#111" stroke-width="0.8" />
<text transform="translate(341.80 271.61) scale(0.8 1)" font-size="5.8" text-anchor="end" fill="#111">-10</text>
<line x1="343.80" y1="260.99" x2="346.20" y2="260.99" stroke="#111" stroke-width="0.8" />
<text transform="translate(341.80 262.99) scale(0.8 1)" font-size="5.8" text-anchor="end" fill="#111">10</text>
<line x1="343.80" y1="252.37" x2="346.20" y2="252.37" stroke="#111" stroke-width="0.8" />
<text transform="translate(341.80 254.37) scale(0.8 1)" font-size="5.8" text-anchor="end" fill="#111">30</text>
<line x1="343.80" y1="243.75" x2="346.20" y2="243.75" stroke="#111" stroke-width="0.8" />
<text transform="translate(341.80 245.75) scale(0.8 1)" font-size="5.8" text-anchor="end" fill="#111">50</text>
<line x1="343.80" y1="235.13" x2="346.20" y2="235.13" stroke="#111" stroke-width="0.8" />
<text transform="translate(341.80 237.13) scale(0.8 1)" font-size="5.8" text-anchor="end" fill="#111">70</text>
<line x1="343.80" y1="226.51" x2="346.20" y2="226.51" stroke="#111" stroke-width="0.8" />
<text transform="translate(341.80 228.51) scale(0.8 1)" font-size="5.8" text-anchor="end" fill="#111">90</text>
<line x1="345.80" y1="265.30" x2="411.00" y2="265.30" stroke="#111" stroke-width="1.1" />
<line x1="346.20" y1="264.50" x2="346.20" y2="267.10" stroke="#111" stroke-width="0.8" />
<text transform="translate(348.50 275.40) scale(0.8 1)" font-size="5.8" text-anchor="middle" fill="#111">0.01</text>
<line x1="351.05" y1="265.30" x2="351.05" y2="266.60" stroke="#111" stroke-width="0.6" />
<line x1="353.88" y1="265.30" x2="353.88" y2="266.60" stroke="#111" stroke-width="0.6" />
<line x1="355.89" y1="265.30" x2="355.89" y2="266.60" stroke="#111" stroke-width="0.6" />
<line x1="357.45" y1="265.30" x2="357.45" y2="266.60" stroke="#111" stroke-width="0.6" />
<line x1="358.73" y1="265.30" x2="358.73" y2="266.60" stroke="#111" stroke-width="0.6" />
<line x1="359.81" y1="265.30" x2="359.81" y2="266.60" stroke="#111" stroke-width="0.6" />
<line x1="360.74" y1="265.30" x2="360.74" y2="266.60" stroke="#111" stroke-width="0.6" />
<line x1="361.56" y1="265.30" x2="361.56" y2="266.60" stroke="#111" stroke-width="0.6" />
<line x1="362.30" y1="264.50" x2="362.30" y2="267.10" stroke="#111" stroke-width="0.8" />
<text transform="translate(363.80 275.40) scale(0.8 1)" font-size="5.8" text-anchor="middle" fill="#111">0.1</text>
<line x1="367.15" y1="265.30" x2="367.15" y2="266.60" stroke="#111" stroke-width="0.6" />
<line x1="369.98" y1="265.30" x2="369.98" y2="266.60" stroke="#111" stroke-width="0.6" />
<line x1="371.99" y1="265.30" x2="371.99" y2="266.60" stroke="#111" stroke-width="0.6" />
<line x1="373.55" y1="265.30" x2="373.55" y2="266.60" stroke="#111" stroke-width="0.6" />
<line x1="374.83" y1="265.30" x2="374.83" y2="266.60" stroke="#111" stroke-width="0.6" />
<line x1="375.91" y1="265.30" x2="375.91" y2="266.60" stroke="#111" stroke-width="0.6" />
<line x1="376.84" y1="265.30" x2="376.84" y2="266.60" stroke="#111" stroke-width="0.6" />
<line x1="377.66" y1="265.30" x2="377.66" y2="266.60" stroke="#111" stroke-width="0.6" />
<line x1="378.40" y1="264.50" x2="378.40" y2="267.10" stroke="#111" stroke-width="0.8" />
<text transform="translate(379.60 275.40) scale(0.8 1)" font-size="5.8" text-anchor="middle" fill="#111">1</text>
<line x1="383.25" y1="265.30" x2="383.25" y2="266.60" stroke="#111" stroke-width="0.6" />
<line x1="386.08" y1="265.30" x2="386.08" y2="266.60" stroke="#111" stroke-width="0.6" />
<line x1="388.09" y1="265.30" x2="388.09" y2="266.60" stroke="#111" stroke-width="0.6" />
<line x1="389.65" y1="265.30" x2="389.65" y2="266.60" stroke="#111" stroke-width="0.6" />
<line x1="390.93" y1="265.30" x2="390.93" y2="266.60" stroke="#111" stroke-width="0.6" />
<line x1="392.01" y1="265.30" x2="392.01" y2="266.60" stroke="#111" stroke-width="0.6" />
<line x1="392.94" y1="265.30" x2="392.94" y2="266.60" stroke="#111" stroke-width="0.6" />
<line x1="393.76" y1="265.30" x2="393.76" y2="266.60" stroke="#111" stroke-width="0.6" />
<line x1="394.50" y1="264.50" x2="394.50" y2="267.10" stroke="#111" stroke-width="0.8" />
<text transform="translate(395.60 275.40) scale(0.8 1)" font-size="5.8" text-anchor="middle" fill="#111">10</text>
<line x1="399.35" y1="265.30" x2="399.35" y2="266.60" stroke="#111" stroke-width="0.6" />
<line x1="402.18" y1="265.30" x2="402.18" y2="266.60" stroke="#111" stroke-width="0.6" />
<line x1="404.19" y1="265.30" x2="404.19" y2="266.60" stroke="#111" stroke-width="0.6" />
<line x1="405.75" y1="265.30" x2="405.75" y2="266.60" stroke="#111" stroke-width="0.6" />
<line x1="407.03" y1="265.30" x2="407.03" y2="266.60" stroke="#111" stroke-width="0.6" />
<line x1="408.11" y1="265.30" x2="408.11" y2="266.60" stroke="#111" stroke-width="0.6" />
<line x1="409.04" y1="265.30" x2="409.04" y2="266.60" stroke="#111" stroke-width="0.6" />
<line x1="409.86" y1="265.30" x2="409.86" y2="266.60" stroke="#111" stroke-width="0.6" />
<line x1="410.60" y1="264.50" x2="410.60" y2="267.10" stroke="#111" stroke-width="0.8" />
<text transform="translate(409.50 275.40) scale(0.8 1)" font-size="5.8" text-anchor="middle" fill="#111">100</text>
<text transform="translate(380.80 281.40) scale(0.92 1)" font-size="6.2" text-anchor="middle" fill="#111">U46619 (µM)</text>
<text x="330.60" y="247.00" font-size="6.6" text-anchor="middle" transform="rotate(-90 330.60 247.00)" fill="#111" >agg (%)</text>
<polyline points="362.30,266.59 378.40,249.78 394.50,231.68 410.60,232.54" fill="none" stroke="#111" stroke-width="1.1" stroke-dasharray="1.5 1.5"/>
<polyline points="362.30,260.56 378.40,242.89 394.50,230.82 410.60,232.54" fill="none" stroke="#111" stroke-width="1.2" />
<line x1="362.50" y1="251.50" x2="362.50" y2="269.50" stroke="#111" stroke-width="0.8" />
<line x1="360.70" y1="251.50" x2="364.30" y2="251.50" stroke="#111" stroke-width="0.8" />
<line x1="360.70" y1="269.50" x2="364.30" y2="269.50" stroke="#111" stroke-width="0.8" />
<line x1="378.50" y1="235.50" x2="378.50" y2="249.50" stroke="#111" stroke-width="0.8" />
<line x1="376.70" y1="235.50" x2="380.30" y2="235.50" stroke="#111" stroke-width="0.8" />
<line x1="376.70" y1="249.50" x2="380.30" y2="249.50" stroke="#111" stroke-width="0.8" />
<line x1="378.50" y1="240.50" x2="378.50" y2="258.50" stroke="#111" stroke-width="0.8" />
<line x1="376.70" y1="240.50" x2="380.30" y2="240.50" stroke="#111" stroke-width="0.8" />
<line x1="376.70" y1="258.50" x2="380.30" y2="258.50" stroke="#111" stroke-width="0.8" />
<polygon points="362.30,258.46 364.40,260.56 362.30,262.66 360.20,260.56" fill="#111"/>
<polygon points="378.40,240.79 380.50,242.89 378.40,244.99 376.30,242.89" fill="#111"/>
<polygon points="394.50,228.72 396.60,230.82 394.50,232.92 392.40,230.82" fill="#111"/>
<polygon points="362.30,264.29 364.60,268.43 360.00,268.43" fill="#fff" stroke="#111" stroke-width="0.9"/>
<polygon points="378.40,247.48 380.70,251.62 376.10,251.62" fill="#fff" stroke="#111" stroke-width="0.9"/>
<circle cx="394.50" cy="231.47" r="1.7" fill="#fff" stroke="#111" stroke-width="1.3"/>
<polygon points="410.60,230.44 412.70,232.54 410.60,234.64 408.50,232.54" fill="#fff" stroke="#111" stroke-width="0.9"/>
</svg>
</body></html>
